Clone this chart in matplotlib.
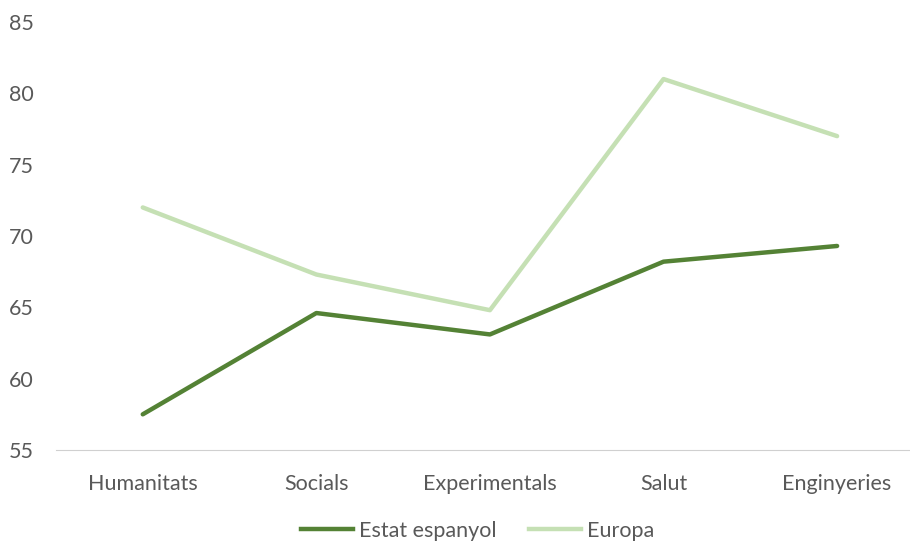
import matplotlib.pyplot as plt
from matplotlib.lines import Line2D

plt.rcParams['font.family'] = ['Lato', 'DejaVu Sans']

categories = ["Humanitats", "Socials", "Experimentals", "Salut", "Enginyeries"]
estat = [57.5, 64.6, 63.1, 68.2, 69.3]
europa = [72.0, 67.3, 64.8, 81.0, 77.0]
yticks = [55, 60, 65, 70, 75, 80, 85]

dark = "#548235"
light = "#c5e0b4"
text_col = "#595959"

fig = plt.figure(figsize=(9.1, 5.44), dpi=100)
ax = fig.add_axes([0.0615, 0.1728, 0.9385, 0.7868])

x = list(range(len(categories)))
ax.plot(x, estat, color=dark, lw=3.2, solid_capstyle="round", solid_joinstyle="round", label="Estat espanyol")
ax.plot(x, europa, color=light, lw=3.2, solid_capstyle="round", solid_joinstyle="round", label="Europa")

ax.set_ylim(55, 85)
ax.set_xlim(-0.5, 4.42)
ax.set_yticks(yticks)
ax.set_xticks(x)
ax.set_xticklabels(categories)

for s in ["top", "right", "left"]:
    ax.spines[s].set_visible(False)
ax.spines["bottom"].set_color("#d0d0d0")
ax.spines["bottom"].set_linewidth(0.8)
ax.tick_params(axis="both", length=0, labelsize=15.5, colors=text_col)
ax.tick_params(axis="y", pad=16)
ax.tick_params(axis="x", pad=17)

handles = [Line2D([], [], color=dark, lw=3.2), Line2D([], [], color=light, lw=3.2)]
fig.legend(handles, ["Estat espanyol", "Europa"], loc="center", bbox_to_anchor=(0.525, 0.024),
           ncol=2, frameon=False, fontsize=15.5, handlelength=2.4, handletextpad=0.3,
           columnspacing=1.5, labelcolor=text_col)

fig.savefig("out.png", dpi=100)
